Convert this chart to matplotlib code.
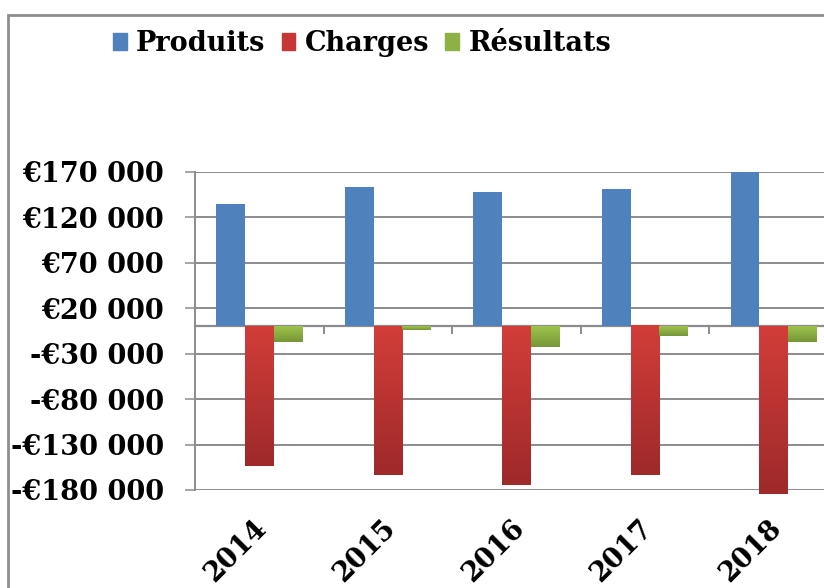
import numpy as np
import matplotlib
matplotlib.use('Agg')
import matplotlib.pyplot as plt
import matplotlib.transforms as mtransforms
from matplotlib.patches import Rectangle, Patch

## DATA

years = ['2014', '2015', '2016', '2017', '2018']
produits = [135000, 153000, 148000, 151000, 170000]
charges = [-154000, -163000, -174000, -164000, -184000]
resultats = [-17000, -4000, -23000, -11000, -17000]
y_ticks = [-180000, -130000, -80000, -30000, 20000, 70000, 120000, 170000]

## STYLE

blue = '#4F81BD'
red_top, red_bot = '#D23D39', '#9E2A2A'
green_top, green_bot = '#9DC44B', '#779638'
grid_col = '#8c8c8c'
font = {'family': 'DejaVu Serif', 'weight': 'bold', 'size': 19.5}


def euro(v):
    s = '€{:,}'.format(abs(int(v))).replace(',', ' ')
    return '-' + s if v < 0 else s


def gradient_fill(ax, bars, c_top, c_bot):
    # paint each bar with a vertical gradient (top colour -> bottom colour)
    t = np.linspace(0, 1, 64)[:, None]
    a = np.array(matplotlib.colors.to_rgb(c_top))
    b = np.array(matplotlib.colors.to_rgb(c_bot))
    for bar in bars:
        x0 = bar.get_x()
        x1 = x0 + bar.get_width()
        y0 = bar.get_y()
        y1 = y0 + bar.get_height()
        top, bot = max(y0, y1), min(y0, y1)
        img = (a[None, :] * (1 - t) + b[None, :] * t)[:, None, :]
        ax.imshow(img, extent=(x0, x1, bot, top), origin='upper', aspect='auto',
                  zorder=3, clip_on=False, interpolation='bilinear')
        bar.set_alpha(0)


fig = plt.figure(figsize=(8.24, 5.88), dpi=100)
ax = fig.add_axes([195 / 824, 98 / 588, 643 / 824, 318 / 588])

x = np.arange(len(years))
w = 0.223
b1 = ax.bar(x - w, produits, w, color=blue, zorder=3, clip_on=False)
b2 = ax.bar(x, charges, w, color=red_top, zorder=3, clip_on=False)
b3 = ax.bar(x + w, resultats, w, color=green_top, zorder=3, clip_on=False)
gradient_fill(ax, b2, red_top, red_bot)
gradient_fill(ax, b3, green_top, green_bot)

ax.set_xlim(-0.5, len(years) - 0.5)
ax.set_ylim(y_ticks[0], y_ticks[-1])
ax.set_yticks(y_ticks)
ax.set_yticklabels([euro(v) for v in y_ticks], fontdict=font)
ax.yaxis.grid(True, color=grid_col, lw=1.4)
ax.set_axisbelow(True)
ax.tick_params(axis='y', length=7.2, width=1.1, color=grid_col, pad=15)

ax.set_xticks(x)
ax.set_xticklabels(years, fontdict=font, rotation=45, ha='right', rotation_mode='anchor')
ax.tick_params(axis='x', length=0, pad=18)
shift = mtransforms.ScaledTranslation(-6 / 100, 0, fig.dpi_scale_trans)
for lbl in ax.get_xticklabels():
    lbl.set_transform(lbl.get_transform() + shift)

for s in ['top', 'right', 'bottom']:
    ax.spines[s].set_visible(False)
ax.spines['left'].set_color(grid_col)
ax.spines['left'].set_linewidth(1.4)

# zero line with category separators
zero_frac = (0 - y_ticks[0]) / (y_ticks[-1] - y_ticks[0])
sec = ax.secondary_xaxis(zero_frac)
sec.xaxis.set_ticks_position('bottom')
sec.set_xticks(x[:-1] + 0.5)
sec.set_xticklabels([])
sec.tick_params(direction='out', length=6, width=1.4, color=grid_col)
for sp in sec.spines.values():
    sp.set_color(grid_col)
    sp.set_linewidth(1.6)

# legend
handles = [Patch(color=blue), Patch(color='#C63634'), Patch(color='#8DB144')]
fig.legend(handles, ['Produits', 'Charges', 'Résultats'], loc='upper left',
           bbox_to_anchor=(113 / 824, 1 - 30 / 588), ncol=3, frameon=False,
           prop=font, handlelength=0.5, handleheight=0.55, handletextpad=0.35,
           columnspacing=0.6, borderaxespad=0, borderpad=0)

# chart area border
fig.patches.append(Rectangle((8 / 824, -0.1), 1.2, 1.1 - 15 / 588, transform=fig.transFigure,
                             fill=False, edgecolor='#8e8e8e', lw=2))

fig.savefig('out.png', dpi=100)
